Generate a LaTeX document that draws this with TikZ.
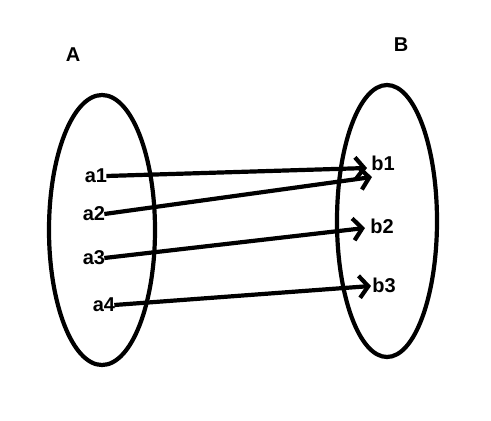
\documentclass[tikz,border=0pt]{standalone}
\usepackage{fontspec}
\setmainfont{Liberation Sans}
\usetikzlibrary{arrows.meta}
\begin{document}
\begin{tikzpicture}[x=1pt,y=-1pt,
  lbl/.style={font=\fontsize{20}{20}\selectfont\bfseries, inner sep=0pt},
  setshape/.style={draw, line width=4.2pt},
  conn/.style={line width=4.2pt, -{Straight Barb[length=9pt,width=22pt,line width=4.2pt]}}]
\useasboundingbox (0,0) rectangle (491,421);
\draw[setshape] (102,230) ellipse [x radius=53, y radius=135];
\draw[setshape] (387,221) ellipse [x radius=50, y radius=136];
\node[lbl] (A) at (73,55) {A};
\node[lbl] (B) at (401,45) {B};
\node[lbl] (a1) at (96,176) {a1};
\node[lbl] (a2) at (94,214) {a2};
\node[lbl] (a3) at (94,258) {a3};
\node[lbl] (a4) at (104,305) {a4};
\node[lbl] (b1) at (383,163) {b1};
\node[lbl] (b2) at (382,226) {b2};
\node[lbl] (b3) at (384,285) {b3};
\coordinate (e1) at (367,168);
\coordinate (e2) at (372,177);
\coordinate (e3) at (365,228);
\coordinate (e4) at (371,286);
\draw[conn] ([xshift=-1pt]a1.east) -- (e1);
\draw[conn] ([xshift=-1pt]a2.east) -- (e2);
\draw[conn] ([xshift=-1pt]a3.east) -- (e3);
\draw[conn] ([xshift=-1pt]a4.east) -- (e4);
\end{tikzpicture}
\end{document}
